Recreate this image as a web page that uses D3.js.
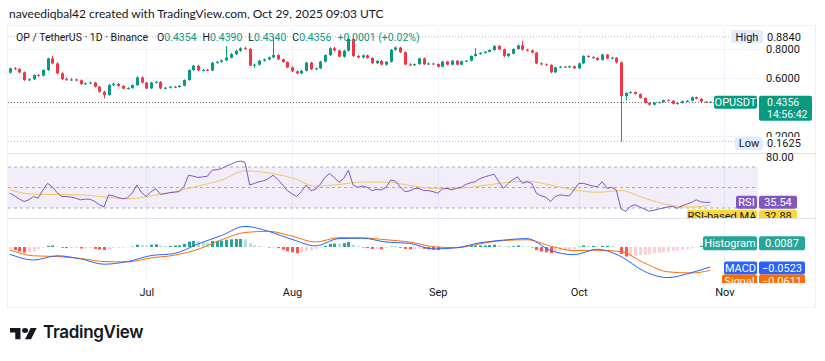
<!DOCTYPE html>
<html>
<head>
<meta charset="utf-8">
<script src="https://cdn.jsdelivr.net/npm/d3@7/dist/d3.min.js"></script>
<style>
body { margin: 0; background: #fff; }
svg text { font-family: Roboto, "Noto Sans", sans-serif; }
</style>
</head>
<body>
<div id="container"></div>
<script>
// datos diarios OP/USDT, desde el 2 de junio 2025
var firstDay = "2025-06-02";
var opens = [0.637,0.667,0.662,0.639,0.586,0.591,0.620,0.616,0.655,0.735,
    0.700,0.632,0.592,0.586,0.590,0.584,0.558,0.563,0.569,0.540,
    0.505,0.482,0.551,0.560,0.545,0.527,0.531,0.551,0.604,0.568,
    0.528,0.568,0.573,0.528,0.533,0.540,0.538,0.547,0.586,0.655,
    0.685,0.652,0.656,0.652,0.705,0.712,0.722,0.740,0.765,0.788,
    0.805,0.800,0.686,0.692,0.720,0.729,0.742,0.758,0.729,0.710,
    0.673,0.646,0.632,0.650,0.706,0.660,0.667,0.713,0.758,0.805,
    0.790,0.747,0.788,0.870,0.752,0.742,0.756,0.738,0.702,0.718,
    0.692,0.712,0.795,0.810,0.778,0.693,0.689,0.696,0.735,0.695,
    0.700,0.696,0.678,0.713,0.692,0.719,0.692,0.715,0.719,0.752,
    0.765,0.773,0.781,0.793,0.821,0.798,0.752,0.768,0.800,0.825,
    0.795,0.790,0.775,0.701,0.694,0.690,0.640,0.673,0.678,0.675,
    0.681,0.667,0.701,0.752,0.745,0.738,0.725,0.762,0.735,0.740,
    0.708,0.475,0.497,0.503,0.490,0.462,0.428,0.416,0.430,0.433,
    0.447,0.444,0.422,0.428,0.440,0.443,0.468,0.456,0.437,0.4354];
var highs = [0.672,0.675,0.668,0.645,0.598,0.625,0.628,0.660,0.740,0.752,
    0.708,0.640,0.605,0.598,0.596,0.590,0.570,0.575,0.574,0.545,
    0.512,0.558,0.568,0.565,0.550,0.536,0.556,0.612,0.610,0.573,
    0.574,0.580,0.578,0.538,0.544,0.546,0.550,0.590,0.660,0.690,
    0.690,0.662,0.663,0.710,0.718,0.728,0.820,0.772,0.794,0.812,
    0.815,0.808,0.700,0.725,0.734,0.748,0.884,0.764,0.735,0.715,
    0.680,0.652,0.656,0.712,0.712,0.672,0.718,0.763,0.812,0.815,
    0.795,0.795,0.878,0.876,0.760,0.762,0.762,0.744,0.722,0.724,
    0.716,0.800,0.818,0.815,0.783,0.702,0.700,0.740,0.741,0.706,
    0.705,0.700,0.718,0.718,0.724,0.724,0.720,0.724,0.756,0.805,
    0.778,0.786,0.798,0.826,0.826,0.803,0.772,0.805,0.830,0.857,
    0.802,0.795,0.780,0.708,0.700,0.695,0.678,0.683,0.684,0.686,
    0.686,0.706,0.757,0.758,0.750,0.742,0.766,0.766,0.746,0.744,
    0.714,0.502,0.508,0.506,0.494,0.466,0.432,0.434,0.438,0.450,
    0.452,0.448,0.432,0.444,0.448,0.472,0.472,0.460,0.442,0.4390];
var lows = [0.630,0.655,0.632,0.580,0.578,0.585,0.610,0.610,0.648,0.695,
    0.625,0.585,0.582,0.580,0.578,0.552,0.553,0.558,0.535,0.500,
    0.459,0.478,0.545,0.540,0.522,0.520,0.526,0.546,0.562,0.522,
    0.524,0.562,0.523,0.522,0.528,0.534,0.533,0.543,0.582,0.648,
    0.645,0.646,0.648,0.648,0.698,0.706,0.716,0.735,0.758,0.780,
    0.795,0.680,0.668,0.685,0.712,0.722,0.736,0.724,0.704,0.668,
    0.640,0.625,0.627,0.645,0.655,0.652,0.662,0.708,0.752,0.782,
    0.742,0.740,0.782,0.745,0.735,0.736,0.733,0.696,0.695,0.688,
    0.686,0.706,0.788,0.772,0.688,0.684,0.683,0.690,0.690,0.690,
    0.690,0.672,0.674,0.688,0.688,0.688,0.688,0.710,0.714,0.747,
    0.760,0.768,0.776,0.788,0.793,0.746,0.745,0.762,0.795,0.790,
    0.784,0.770,0.696,0.688,0.686,0.632,0.634,0.668,0.670,0.670,
    0.662,0.662,0.696,0.740,0.732,0.720,0.720,0.730,0.730,0.700,
    0.1625,0.445,0.492,0.486,0.458,0.424,0.408,0.412,0.426,0.430,
    0.440,0.418,0.416,0.424,0.436,0.440,0.452,0.434,0.432,0.4340];
var closes = [0.667,0.662,0.639,0.586,0.591,0.620,0.616,0.655,0.735,0.700,
    0.632,0.592,0.586,0.590,0.584,0.558,0.563,0.569,0.540,0.505,
    0.482,0.551,0.560,0.545,0.527,0.531,0.551,0.604,0.568,0.528,
    0.568,0.573,0.528,0.533,0.540,0.538,0.547,0.586,0.655,0.685,
    0.652,0.656,0.652,0.705,0.712,0.722,0.740,0.765,0.788,0.805,
    0.800,0.686,0.692,0.720,0.729,0.742,0.758,0.729,0.710,0.673,
    0.646,0.632,0.650,0.706,0.660,0.667,0.713,0.758,0.805,0.790,
    0.747,0.788,0.870,0.752,0.742,0.756,0.738,0.702,0.718,0.692,
    0.712,0.795,0.810,0.778,0.693,0.689,0.696,0.735,0.695,0.700,
    0.696,0.678,0.713,0.692,0.719,0.692,0.715,0.719,0.752,0.765,
    0.773,0.781,0.793,0.821,0.798,0.752,0.768,0.800,0.825,0.795,
    0.790,0.775,0.701,0.694,0.690,0.640,0.673,0.678,0.675,0.681,
    0.667,0.701,0.752,0.745,0.738,0.725,0.762,0.735,0.740,0.708,
    0.475,0.497,0.503,0.490,0.462,0.428,0.416,0.430,0.433,0.447,
    0.444,0.422,0.428,0.440,0.443,0.468,0.456,0.437,0.4355,0.4356];

// RSI 14 diario
var rsi = [44.4,41.8,38.6,36.4,38.0,41.2,39.6,47.6,54.0,50.8,
    45.0,41.2,41.2,40.6,39.6,38.0,38.6,38.6,36.4,33.2,
    31.0,42.8,41.8,40.2,39.0,39.9,44.4,52.4,45.0,41.2,
    46.0,48.9,43.4,44.1,45.0,45.4,46.0,50.8,62.0,61.0,
    59.8,60.4,61.0,66.8,67.4,68.4,71.0,72.6,74.8,75.8,
    74.5,52.4,54.0,55.6,56.6,58.8,62.0,57.8,52.4,47.0,
    43.8,41.2,46.0,52.4,47.0,48.2,53.0,59.8,63.6,59.8,
    55.0,58.8,66.8,52.4,50.2,51.4,50.2,47.0,48.2,47.6,
    50.2,57.2,56.2,50.8,46.0,46.6,48.9,49.2,47.0,47.0,
    46.0,44.4,48.6,49.2,47.6,49.2,50.2,53.0,54.6,55.6,
    58.8,60.4,61.7,63.0,55.6,49.2,54.0,57.8,60.4,54.0,
    55.6,54.0,44.4,41.8,40.6,36.4,41.2,42.8,42.2,41.8,
    47.6,54.0,54.0,52.7,51.4,50.8,55.6,49.2,50.2,47.6,
    29.0,26.8,31.6,33.2,31.0,29.0,26.8,27.8,29.0,30.0,
    31.0,31.6,29.7,32.2,33.8,35.4,38.0,36.0,35.4,35.54];

// lineas suaves leidas cada 5 dias (indice del dia)
var sampleDays = [0,5,10,15,20,25,30,35,40,45,50,55,60,65,70,75,80,85,90,95,
    100,105,110,115,120,125,130,135,140,145,149];
var rsiMA = [47.6,43.4,43.1,42.8,40.9,39.0,41.8,46.0,51.4,57.2,66.2,64.2,59.4,51.4,53.0,
    55.3,55.3,52.1,49.2,49.2,51.4,54.6,56.2,52.4,47.6,45.4,47.0,39.6,33.2,31.0,32.88];
var macdLine = [-0.019,-0.034,-0.023,-0.031,-0.045,-0.038,-0.0225,-0.017,0.008,0.030,0.054,
    0.041,0.020,0.003,0.022,0.023,0.013,0.0095,-0.005,-0.002,0.011,0.018,0.022,-0.009,
    -0.020,-0.006,-0.025,-0.064,-0.080,-0.067,-0.0523];
var signalLine = [-0.008,-0.023,-0.025,-0.030,-0.038,-0.039,-0.0285,-0.0215,-0.006,0.019,0.038,
    0.041,0.0285,0.013,0.0245,0.024,0.019,0.013,0.001,-0.002,0.0085,0.017,0.019,0.0025,
    -0.0095,-0.0085,-0.012,-0.042,-0.065,-0.068,-0.0611];
var histogram = [-0.006,-0.008,-0.012,-0.015,-0.014,-0.012,-0.006,-0.002,0.003,0.004,
    0.001,-0.002,-0.003,-0.003,-0.003,-0.004,-0.004,-0.003,-0.005,-0.007,
    -0.008,-0.005,-0.003,-0.002,-0.002,-0.001,0.001,0.006,0.005,0.004,
    0.006,0.007,0.004,0.003,0.003,0.004,0.004,0.008,0.014,0.016,
    0.015,0.013,0.012,0.016,0.016,0.017,0.019,0.020,0.021,0.021,
    0.020,0.010,0.005,0.003,0.001,-0.001,-0.001,-0.003,-0.007,-0.011,
    -0.014,-0.016,-0.014,-0.010,-0.008,-0.005,-0.002,0.003,0.008,0.009,
    0.008,0.010,0.013,0.006,0.002,-0.001,-0.003,-0.005,-0.005,-0.006,
    -0.003,0.001,0.001,-0.002,-0.005,-0.006,-0.006,-0.004,-0.005,-0.006,
    -0.007,-0.008,-0.005,-0.004,-0.002,-0.001,0.001,0.002,0.003,0.004,
    0.004,0.004,0.005,0.006,0.004,0.001,0.001,0.002,0.004,0.003,
    0.001,-0.001,-0.008,-0.012,-0.014,-0.016,-0.012,-0.010,-0.008,-0.007,
    -0.005,0.001,0.004,0.003,0.003,0.002,0.003,0.003,0.002,0.001,
    -0.018,-0.025,-0.024,-0.022,-0.021,-0.020,-0.019,-0.017,-0.015,-0.013,
    -0.012,-0.010,-0.009,-0.007,-0.005,-0.003,-0.001,0.003,0.006,0.0087];

var monthTicks = ["2025-07-01","2025-08-01","2025-09-01","2025-10-01","2025-11-01"];
var priceTicks = [0.2, 0.4, 0.6, 0.8];
var rsiTicks = [80];
var countdown = "14:56:42";

visualize();

function visualize() {
    var w = 825, h = 361;
    var plotLeft = 8, plotRight = 758, frameRight = 816;
    var pricePane = [27, 153], rsiPane = [153, 218], macdPane = [218, 283];

    var parseDay = d3.utcParse("%Y-%m-%d");
    var day0 = parseDay(firstDay);
    var months = monthTicks.map(parseDay);

    var candles = closes.map(function(c, i) {
        return {date: d3.utcDay.offset(day0, i), o: opens[i], h: highs[i], l: lows[i], c: c};
    });

    var x = d3.scaleUtc().domain([day0, months[months.length - 1]]).range([10, 724.4]);
    var y = d3.scaleLinear().domain([0.2, 0.8]).range([136, 49]);
    var yRsi = d3.scaleLinear().domain([30, 70]).range([208, 167]);
    var yMacd = d3.scaleLinear().domain([0, -0.0523]).range([247, 267]);

    var up = "#089981", down = "#f23645";
    var last = closes[closes.length - 1], prevClose = closes[closes.length - 2];
    var hi = d3.max(highs), lo = d3.min(lows);

    var svg = d3.select("#container").append("svg")
        .attr("width", w).attr("height", h);

    var defs = svg.append("defs");
    [["cpPrice", pricePane], ["cpRsi", rsiPane], ["cpMacd", macdPane]].forEach(function(p) {
        defs.append("clipPath").attr("id", p[0]).append("rect")
            .attr("x", plotLeft).attr("y", p[1][0])
            .attr("width", frameRight - plotLeft).attr("height", p[1][1] - p[1][0]);
    });
    // el 0.2000 queda medio tapado por la etiqueta Low (coordenadas locales del tick)
    defs.append("clipPath").attr("id", "cpLowTick").append("rect")
        .attr("x", -5).attr("y", -15).attr("width", 60).attr("height", 15.5);

    //titulo de arriba
    svg.append("text")
        .attr("x", 9).attr("y", 18)
        .attr("font-size", 12).attr("fill", "#131722")
        .style("font-family", "Lato, sans-serif")
        .text("naveediqbal42 created with TradingView.com, Oct 29, 2025 09:03 UTC");

    //marco
    svg.append("rect")
        .attr("x", plotLeft - 0.5).attr("y", 25.5)
        .attr("width", frameRight - plotLeft).attr("height", 282)
        .attr("fill", "none").attr("stroke", "#eef0f4");

    //rejilla
    var grid = svg.append("g");
    grid.selectAll(".vg").data(months).enter().append("line")
        .attr("x1", function(d) { return Math.round(x(d)) + 0.5; })
        .attr("x2", function(d) { return Math.round(x(d)) + 0.5; })
        .attr("y1", pricePane[0]).attr("y2", macdPane[1])
        .attr("stroke", "#f0f3fa");
    grid.selectAll(".hg").data(priceTicks).enter().append("line")
        .attr("x1", plotLeft).attr("x2", plotRight)
        .attr("y1", function(d) { return Math.round(y(d)) + 0.5; })
        .attr("y2", function(d) { return Math.round(y(d)) + 0.5; })
        .attr("stroke", "#f0f3fa");
    [rsiPane[0], macdPane[0]].forEach(function(yy) {
        grid.append("line").attr("x1", plotLeft).attr("x2", frameRight)
            .attr("y1", yy + 0.5).attr("y2", yy + 0.5).attr("stroke", "#e0e3eb");
    });

    //lineas punteadas de max, min y precio actual
    var dots = svg.append("g").attr("fill", "none");
    dots.append("line").attr("x1", plotLeft).attr("x2", 731)
        .attr("y1", y(hi)).attr("y2", y(hi))
        .attr("stroke", "#b2b5be").attr("stroke-dasharray", "1,2");
    dots.append("line").attr("x1", plotLeft).attr("x2", 735)
        .attr("y1", y(lo)).attr("y2", y(lo))
        .attr("stroke", "#b2b5be").attr("stroke-dasharray", "1,2");
    dots.append("line").attr("x1", plotLeft).attr("x2", 714)
        .attr("y1", Math.round(y(last)) + 0.5).attr("y2", Math.round(y(last)) + 0.5)
        .attr("stroke", "#6a6d78").attr("stroke-dasharray", "1,2");

    //velas
    var cg = svg.append("g").attr("clip-path", "url(#cpPrice)");
    var units = cg.selectAll("g").data(candles).enter().append("g");
    units.append("line")
        .attr("x1", function(d) { return Math.round(x(d.date)) + 0.5; })
        .attr("x2", function(d) { return Math.round(x(d.date)) + 0.5; })
        .attr("y1", function(d) { return y(d.h); })
        .attr("y2", function(d) { return y(d.l); })
        .attr("stroke", function(d) { return d.c >= d.o ? up : down; });
    units.append("rect")
        .attr("x", function(d) { return Math.round(x(d.date)) - 1; })
        .attr("y", function(d) { return y(Math.max(d.o, d.c)); })
        .attr("width", 3)
        .attr("height", function(d) { return Math.max(1, Math.abs(y(d.o) - y(d.c))); })
        .attr("fill", function(d) { return d.c >= d.o ? up : down; });

    //leyenda
    var leg = svg.append("text").attr("x", 16).attr("y", 41)
        .attr("font-size", 10.5).attr("fill", "#131722");
    leg.append("tspan").text("OP / TetherUS · 1D · Binance");
    var ohlc = [["O", opens], ["H", highs], ["L", lows], ["C", closes]];
    ohlc.forEach(function(p, k) {
        leg.append("tspan").attr("dx", k === 0 ? 9 : 6).text(p[0]);
        leg.append("tspan").attr("fill", up).text(d3.format(".4f")(p[1][p[1].length - 1]));
    });
    var chg = last - prevClose;
    leg.append("tspan").attr("dx", 6).attr("fill", up)
        .text(d3.format("+.4f")(chg) + " (" + d3.format("+.2%")(chg / prevClose) + ")");

    //RSI
    var rg = svg.append("g").attr("clip-path", "url(#cpRsi)");
    rg.append("rect").attr("x", plotLeft).attr("width", plotRight - plotLeft)
        .attr("y", yRsi(70)).attr("height", yRsi(30) - yRsi(70))
        .attr("fill", "rgba(126,87,194,0.1)");
    [70, 50, 30].forEach(function(v) {
        rg.append("line").attr("x1", plotLeft).attr("x2", plotRight)
            .attr("y1", yRsi(v)).attr("y2", yRsi(v))
            .attr("stroke", "#a9abb4").attr("stroke-dasharray", "3,3");
    });
    var maLine = d3.line()
        .x(function(d, i) { return x(d3.utcDay.offset(day0, sampleDays[i])); })
        .y(function(d) { return yRsi(d); })
        .curve(d3.curveMonotoneX);
    rg.append("path").attr("d", maLine(rsiMA))
        .attr("fill", "none").attr("stroke", "#f5c65a").attr("stroke-width", 1);
    var rsiPath = d3.line()
        .x(function(d, i) { return x(d3.utcDay.offset(day0, i)); })
        .y(function(d) { return yRsi(d); });
    rg.append("path").attr("d", rsiPath(rsi))
        .attr("fill", "none").attr("stroke", "#7e57c2").attr("stroke-width", 1);

    //MACD
    var mg = svg.append("g").attr("clip-path", "url(#cpMacd)");
    mg.selectAll("rect").data(histogram).enter().append("rect")
        .attr("x", function(d, i) { return Math.round(x(d3.utcDay.offset(day0, i))) - 1; })
        .attr("width", 3)
        .attr("y", function(d) { return Math.min(yMacd(d), yMacd(0)); })
        .attr("height", function(d) { return Math.max(0.5, Math.abs(yMacd(d) - yMacd(0))); })
        .attr("fill", function(d, i) {
            var prev = i > 0 ? histogram[i - 1] : d;
            if (d >= 0) return d >= prev ? "#26a69a" : "#b2dfdb";
            return d < prev ? "#ff5252" : "#ffcdd2";
        });
    var macdPath = d3.line()
        .x(function(d, i) { return x(d3.utcDay.offset(day0, sampleDays[i])); })
        .y(function(d) { return yMacd(d); })
        .curve(d3.curveMonotoneX);
    mg.append("path").attr("d", macdPath(signalLine))
        .attr("fill", "none").attr("stroke", "#ff6d00");
    mg.append("path").attr("d", macdPath(macdLine))
        .attr("fill", "none").attr("stroke", "#2962ff");

    //eje de tiempo
    var xAxis = svg.append("g").attr("transform", "translate(0,290)")
        .call(d3.axisBottom(x).tickValues(months).tickFormat(d3.utcFormat("%b")).tickSize(0));
    xAxis.select(".domain").remove();
    xAxis.selectAll("text").attr("font-size", 11).attr("fill", "#131722")
        .style("font-family", "Roboto, sans-serif").attr("dy", "0.3em");

    //eje de precio (las marcas tapadas por la etiqueta del precio no se ven)
    var shownTicks = priceTicks.filter(function(t) { return Math.abs(y(t) - y(last)) > 14; });
    var yAxis = svg.append("g").attr("transform", "translate(763,0)")
        .call(d3.axisRight(y).tickValues(shownTicks).tickFormat(d3.format(".4f")).tickSize(0));
    yAxis.select(".domain").remove();
    yAxis.selectAll("text").attr("font-size", 11).attr("fill", "#131722")
        .style("font-family", "Roboto, sans-serif");
    yAxis.selectAll(".tick").filter(function(d) { return Math.abs(y(d) - y(lo)) < 10; })
        .attr("clip-path", "url(#cpLowTick)");
    var rAxis = svg.append("g").attr("transform", "translate(763,0)")
        .call(d3.axisRight(yRsi).tickValues(rsiTicks).tickFormat(d3.format(".2f")).tickSize(0));
    rAxis.select(".domain").remove();
    rAxis.selectAll("text").attr("font-size", 11).attr("fill", "#131722")
        .style("font-family", "Roboto, sans-serif");

    //etiquetas de la derecha
    var tags = svg.append("g").style("font-family", "Roboto, sans-serif").attr("font-size", 11);

    function tag(g, x0, x1, yc, hh, fill, txt, color) {
        g.append("rect").attr("x", x0).attr("y", yc - hh / 2)
            .attr("width", x1 - x0).attr("height", hh).attr("rx", 2).attr("fill", fill);
        g.append("text").attr("x", (x0 + x1) / 2).attr("y", yc).attr("dy", "0.35em")
            .attr("text-anchor", "middle").attr("fill", color).text(txt);
    }

    tag(tags, 731, 763, y(hi), 13, "#e3ecfc", "High", "#131722");
    tags.append("text").attr("x", 767).attr("y", y(hi)).attr("dy", "0.35em")
        .attr("fill", "#131722").text(d3.format(".4f")(hi));
    tag(tags, 735, 763, y(lo) + 2, 13, "#e3ecfc", "Low", "#131722");
    tags.append("text").attr("x", 767).attr("y", y(lo) + 2).attr("dy", "0.35em")
        .attr("fill", "#131722").text(d3.format(".4f")(lo));

    var yl = y(last);
    tag(tags, 714, 757, yl + 0.5, 13, up, "OPUSDT", "#fff");
    tags.append("rect").attr("x", 759).attr("y", yl - 6).attr("width", 53).attr("height", 25)
        .attr("rx", 2).attr("fill", up);
    tags.append("text").attr("x", 767).attr("y", yl).attr("dy", "0.35em").attr("fill", "#fff")
        .attr("font-size", 10.5).text(d3.format(".4f")(last));
    tags.append("text").attr("x", 767).attr("y", yl + 12).attr("dy", "0.35em").attr("fill", "#fff")
        .attr("font-size", 10.5).text(countdown);

    var rsiLast = rsi[rsi.length - 1], maLast = rsiMA[rsiMA.length - 1];
    var rt = tags.append("g").attr("clip-path", "url(#cpRsi)");
    tag(rt, 736, 757, yRsi(rsiLast), 13, "#7e57c2", "RSI", "#fff");
    tag(rt, 759, 797, yRsi(rsiLast), 13, "#7e57c2", d3.format(".2f")(rsiLast), "#fff");
    tag(rt, 687, 757, yRsi(rsiLast) + 14, 13, "#fdd835", "RSI-based MA", "#131722");
    tag(rt, 759, 797, yRsi(rsiLast) + 14, 13, "#fdd835", d3.format(".2f")(maLast), "#131722");

    var hLast = histogram[histogram.length - 1];
    var mLast = macdLine[macdLine.length - 1], sLast = signalLine[signalLine.length - 1];
    var fmt = d3.format(".4f");
    var mt = tags.append("g").attr("clip-path", "url(#cpMacd)");
    tag(mt, 703, 757, yMacd(hLast) - 0.5, 14, "#26a69a", "Histogram", "#fff");
    tag(mt, 759, 805, yMacd(hLast) - 0.5, 14, "#26a69a", fmt(hLast), "#fff");
    tag(mt, 724, 757, yMacd(mLast) + 1, 13, "#2962ff", "MACD", "#fff");
    tag(mt, 759, 805, yMacd(mLast) + 1, 13, "#2962ff", fmt(mLast), "#fff");
    tag(mt, 722, 757, yMacd(mLast) + 14, 13, "#ff6d00", "Signal", "#fff");
    tag(mt, 759, 805, yMacd(mLast) + 14, 13, "#ff6d00", fmt(sLast), "#fff");

    //logo TradingView
    var logo = svg.append("g").attr("transform", "translate(10,325.6) scale(0.75,0.62)").attr("fill", "#131722");
    logo.append("path").attr("d", "M14 22H7V11H0V4h14v18zM28 22h-8l7.5-18h8L28 22z");
    logo.append("circle").attr("cx", 20).attr("cy", 8).attr("r", 4);
    svg.append("text").attr("x", 43).attr("y", 338)
        .attr("font-size", 17).attr("font-weight", 600).attr("fill", "#131722")
        .attr("letter-spacing", -0.3)
        .style("font-family", "Inter, Roboto, sans-serif")
        .text("TradingView");
}
</script>
</body>
</html>
